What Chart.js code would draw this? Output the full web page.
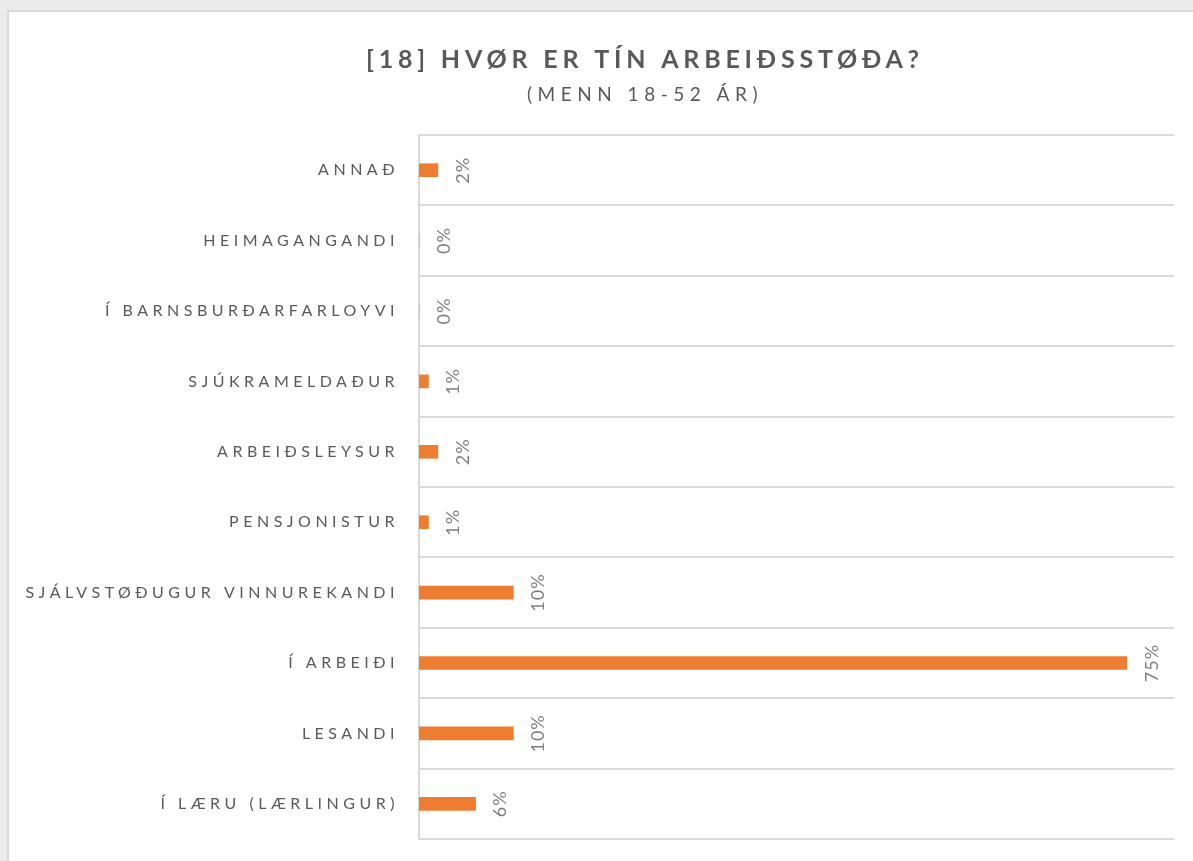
<!DOCTYPE html>
<html>
<head>
<meta charset="utf-8">
<script src="https://cdn.jsdelivr.net/npm/chart.js@4"></script>
<style>
  html, body { margin: 0; padding: 0; background: #ebebeb; overflow: hidden; width: 1193px; height: 861px; }
  #card { position: absolute; left: 7px; top: 10px; width: 1272px; height: 849px; background: #fff;
          border-top: 2px solid #dadada; border-left: 2px solid #dadada; }
  #chart { display: block; }
</style>
</head>
<body>
<div id="card"><canvas id="chart" width="1272" height="849"></canvas></div>
<script>
const categories = ['ANNAÐ', 'HEIMAGANGANDI', 'Í BARNSBURÐARFARLOYVI', 'SJÚKRAMELDAÐUR', 'ARBEIÐSLEYSUR',
    'PENSJONISTUR', 'SJÁLVSTØÐUGUR VINNUREKANDI', 'Í ARBEIÐI', 'LESANDI', 'Í LÆRU (LÆRLINGUR)'];
const values = [2, 0, 0, 1, 2, 1, 10, 75, 10, 6];
const titleText = '[18] HVØR ER TÍN ARBEIÐSSTØÐA?';
const subtitleText = '(MENN 18-52 ÁR)';

// spaced caps like the office chart
const spacing = {
    id: 'spacing',
    beforeLayout(chart) { chart.ctx.letterSpacing = '4.5px'; },
    beforeDraw(chart) { chart.ctx.letterSpacing = '4.5px'; }
};

const headings = {
    id: 'headings',
    afterDraw(chart) {
        const ctx = chart.ctx;
        ctx.save();
        ctx.fillStyle = '#595959';
        ctx.textAlign = 'center';
        ctx.textBaseline = 'middle';
        ctx.letterSpacing = '4.8px';
        ctx.font = 'bold 25px Lato';
        ctx.fillText(titleText, chart.width / 2, 48);
        ctx.letterSpacing = '5.5px';
        ctx.font = '19px Lato';
        ctx.fillText(subtitleText, chart.width / 2, 83);
        ctx.restore();
    }
};

const barLabels = {
    id: 'barLabels',
    afterDatasetsDraw(chart) {
        const ctx = chart.ctx;
        const meta = chart.getDatasetMeta(0);
        ctx.save();
        ctx.letterSpacing = '1px';
        ctx.fillStyle = '#7f7f7f';
        ctx.font = '18px Lato';
        ctx.textAlign = 'center';
        ctx.textBaseline = 'middle';
        meta.data.forEach((bar, i) => {
            ctx.save();
            ctx.translate(bar.x + 25, bar.y);
            ctx.rotate(-Math.PI / 2);
            ctx.fillText(values[i] + '%', 0, 0);
            ctx.restore();
        });
        ctx.restore();
    }
};

new Chart(document.getElementById('chart'), {
    type: 'bar',
    data: {
        labels: categories,
        datasets: [{
            data: values,
            backgroundColor: '#ed7d31',
            barThickness: 13
        }]
    },
    options: {
        indexAxis: 'y',
        responsive: false,
        animation: false,
        layout: { padding: { top: 123, right: 107, bottom: 22, left: 0 } },
        plugins: {
            legend: { display: false },
            tooltip: { enabled: false }
        },
        scales: {
            x: {
                display: false,
                min: 0,
                max: 80
            },
            y: {
                afterFit(scale) {
                    scale.width = 410;
                    scale.paddingTop = 0;
                    scale.paddingBottom = 0;
                },
                grid: { color: '#d9d9d9', lineWidth: 2, drawTicks: false, offset: true },
                border: { color: '#d9d9d9', width: 2 },
                ticks: {
                    color: '#595959',
                    font: { family: 'Lato', size: 16 },
                    padding: 20
                }
            }
        }
    },
    plugins: [spacing, headings, barLabels]
});
</script>
</body>
</html>
